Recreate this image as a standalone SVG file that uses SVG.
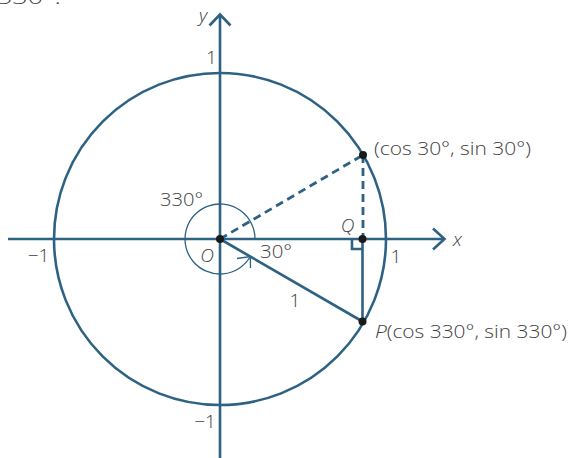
<svg xmlns="http://www.w3.org/2000/svg" width="569" height="458" viewBox="0 0 569 458">
<style>
.ln{stroke:#2d6283;fill:none;stroke-width:2.6;stroke-linecap:butt}
.thin{stroke:#2d6283;fill:none;stroke-width:1.3}
.dash{stroke:#2d6283;fill:none;stroke-width:2.8;stroke-dasharray:8 5}
.t{font-family:"Open Sans","Liberation Sans",sans-serif;font-weight:300;font-size:19px;fill:#404040}
.i{font-style:italic}
.dot{fill:#1a1a1a}
</style>
<rect width="569" height="458" fill="#fff"/>
<text class="t" x="-3" y="4" font-size="23" textLength="64" lengthAdjust="spacingAndGlyphs">330°.</text>
<g id="connectors">
<line class="ln" x1="8" y1="239" x2="444" y2="239"/>
<polyline class="ln" points="433,228.5 444.5,239 433,249.5"/>
<line class="ln" x1="220" y1="458" x2="220" y2="15"/>
<polyline class="ln" points="209.5,25.5 220,14.5 230.5,25.5"/>
<circle class="ln" cx="220" cy="239" r="166"/>
<line class="dash" x1="220" y1="239" x2="363" y2="155"/>
<line class="dash" x1="363" y1="155" x2="363" y2="239"/>
<line class="ln" x1="220" y1="239" x2="362.5" y2="321.5"/>
<line class="ln" x1="362.5" y1="239" x2="362.5" y2="321.5"/>
<polyline class="ln" points="352,239 352,249 362.5,249" stroke-width="2"/>
<path class="thin" d="M255 239 A35 35 0 1 0 250.3 256.5"/>
<polyline class="thin" points="237,258.5 250.3,256.5 250.5,268"/>
</g>
<g id="origin">
<circle class="dot" cx="220" cy="239" r="4"/>
<text class="t i" x="207" y="262" text-anchor="middle" font-size="20">O</text>
</g>
<g id="point-30">
<circle class="dot" cx="363" cy="155" r="4"/>
<text class="t" x="374" y="155" textLength="157" lengthAdjust="spacingAndGlyphs">(cos 30°, sin 30°)</text>
</g>
<g id="point-Q">
<circle class="dot" cx="362.5" cy="239" r="4"/>
<text class="t i" x="347.5" y="232" text-anchor="middle" font-size="20">Q</text>
</g>
<g id="point-P">
<circle class="dot" cx="362.5" cy="321.5" r="4"/>
<text class="t" x="375" y="338" textLength="192" lengthAdjust="spacingAndGlyphs"><tspan class="i">P</tspan>(cos 330°, sin 330°)</text>
</g>
<g id="labels">
<text class="t i" x="203" y="22" text-anchor="middle" font-size="20">y</text>
<text class="t i" x="457.5" y="246" text-anchor="middle" font-size="20">x</text>
<text class="t" x="211.5" y="64" text-anchor="middle" font-size="20">1</text>
<text class="t" x="396" y="263" text-anchor="middle" font-size="20">1</text>
<text class="t" x="38.5" y="262" text-anchor="middle" font-size="20">−1</text>
<text class="t" x="205" y="428" text-anchor="middle" font-size="20">−1</text>
<text class="t" x="295" y="307" text-anchor="middle" font-size="20">1</text>
<text class="t" x="160" y="206" textLength="43" lengthAdjust="spacingAndGlyphs">330°</text>
<text class="t" x="260" y="258" textLength="32" lengthAdjust="spacingAndGlyphs">30°</text>
</g>
</svg>
